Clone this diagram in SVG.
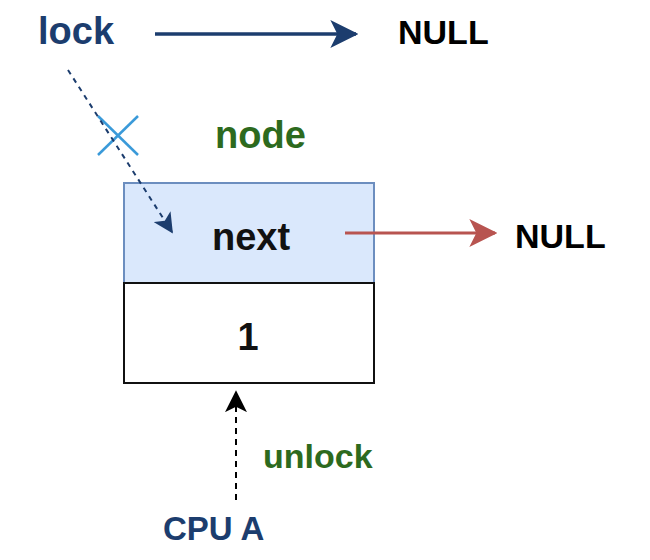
<svg xmlns="http://www.w3.org/2000/svg" width="650" height="560" viewBox="0 0 650 560">
<style>
text{font-family:"Liberation Sans",Arial,sans-serif;font-weight:bold}
.navy{fill:#1c3d6e}
.green{fill:#2d6a1e}
.blk{fill:#000}
</style>
<defs>
<marker id="aNavy" viewBox="0 0 12 12" refX="11" refY="6" markerWidth="28" markerHeight="28" markerUnits="userSpaceOnUse" orient="auto"><path d="M0,0 L12,6 L0,12 L3,6 Z" fill="#1c3d6e"/></marker>
<marker id="aRed" viewBox="0 0 12 12" refX="11" refY="6" markerWidth="28" markerHeight="28" markerUnits="userSpaceOnUse" orient="auto"><path d="M0,0 L12,6 L0,12 L3,6 Z" fill="#b85450"/></marker>
<marker id="aDash" viewBox="0 0 12 12" refX="11" refY="6" markerWidth="20" markerHeight="20" markerUnits="userSpaceOnUse" orient="auto"><path d="M0,0 L12,6 L0,12 L3,6 Z" fill="#1c3d6e"/></marker>
<marker id="aBlack" viewBox="0 0 12 12" refX="11" refY="6" markerWidth="22" markerHeight="22" markerUnits="userSpaceOnUse" orient="auto"><path d="M0,0 L12,6 L0,12 L3,6 Z" fill="#000"/></marker>
</defs>
<g id="cross">
<line x1="98" y1="116" x2="138" y2="155" stroke="#3a9ad9" stroke-width="2.5"/>
<line x1="138" y1="116" x2="98" y2="155" stroke="#3a9ad9" stroke-width="2.5"/>
</g>
<g id="lock"><text x="38" y="44" font-size="38" class="navy">lock</text></g>
<g id="null1"><text x="398" y="44" font-size="34" class="blk">NULL</text></g>
<g id="nodeLabel"><text x="215" y="148" font-size="38" class="green">node</text></g>
<g id="nextCell">
<rect x="124" y="183" width="250" height="100" fill="#dae8fc" stroke="#6c8ebf" stroke-width="2"/>
<text x="251" y="250" font-size="38" text-anchor="middle" fill="#111">next</text>
</g>
<g id="valCell">
<rect x="124" y="283" width="250" height="100" fill="#fff" stroke="#111" stroke-width="2"/>
<text x="248" y="350" font-size="38" text-anchor="middle" fill="#111">1</text>
</g>
<g id="null2"><text x="515" y="248" font-size="34" class="blk">NULL</text></g>
<g id="unlock"><text x="263" y="468" font-size="34" class="green">unlock</text></g>
<g id="cpuA"><text x="163" y="540" font-size="33" class="navy">CPU A</text></g>
<g id="connectors">
<line x1="155" y1="34" x2="356" y2="34" stroke="#1c3d6e" stroke-width="3.5" marker-end="url(#aNavy)"/>
<line x1="68" y1="70" x2="172" y2="232" stroke="#1c3d6e" stroke-width="2" stroke-dasharray="5,5" marker-end="url(#aDash)"/>
<line x1="345" y1="233" x2="495" y2="233" stroke="#b85450" stroke-width="3" marker-end="url(#aRed)"/>
<line x1="236" y1="500" x2="236" y2="392" stroke="#000" stroke-width="2" stroke-dasharray="6,5" marker-end="url(#aBlack)"/>
</g>
</svg>
